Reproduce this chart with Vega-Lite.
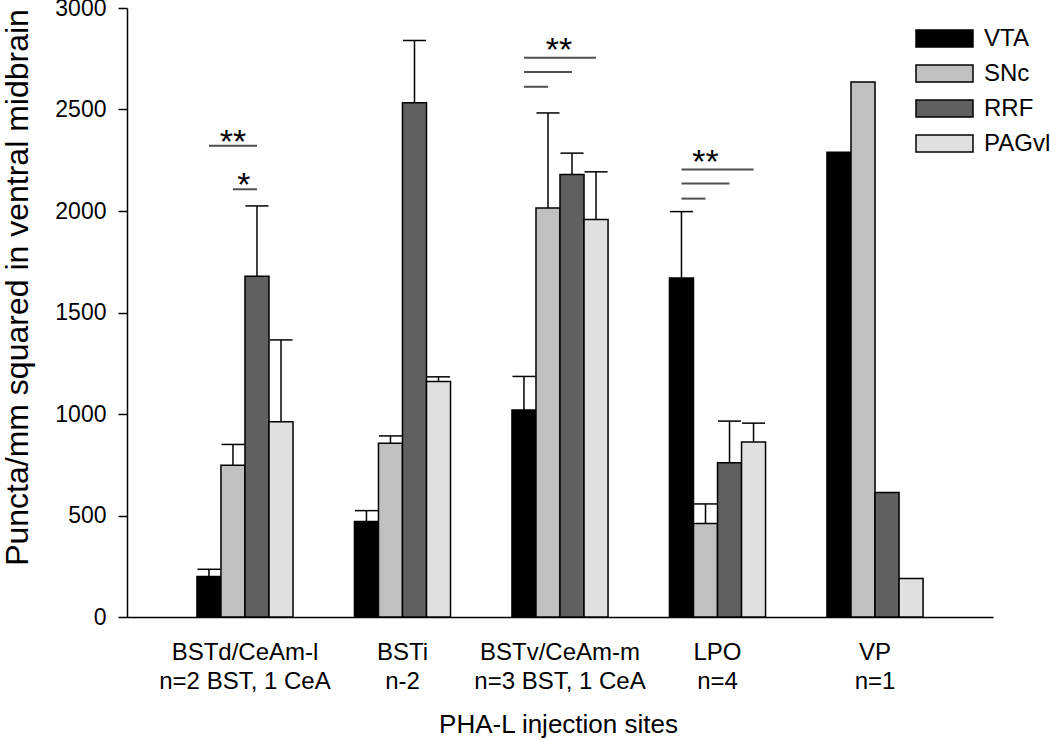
{
  "$schema": "https://vega.github.io/schema/vega-lite/v6.json",
  "width": 866,
  "height": 609,
  "autosize": {"type": "none"},
  "padding": {"left": 127, "top": 8, "right": 57, "bottom": 123},
  "background": "white",
  "config": {
    "view": {"stroke": null},
    "font": "Liberation Sans",
    "axis": {"labelFont": "Liberation Sans", "titleFont": "Liberation Sans", "labelColor": "black", "titleColor": "black", "titleFontWeight": "normal"},
    "axisY": {"labelFontSize": 23, "labelPadding": 12, "tickSize": 9, "tickColor": "black", "tickWidth": 1.5, "domainColor": "black", "domainWidth": 1.5, "grid": false}
  },
  "datasets": {
    "bars": [
      {"site": "BSTd/CeAm-l|n=2 BST, 1 CeA", "region": "VTA", "value": 200, "upper": 235},
      {"site": "BSTd/CeAm-l|n=2 BST, 1 CeA", "region": "SNc", "value": 748, "upper": 850},
      {"site": "BSTd/CeAm-l|n=2 BST, 1 CeA", "region": "RRF", "value": 1678, "upper": 2025},
      {"site": "BSTd/CeAm-l|n=2 BST, 1 CeA", "region": "PAGvl", "value": 962, "upper": 1365},
      {"site": "BSTi|n-2", "region": "VTA", "value": 470, "upper": 524},
      {"site": "BSTi|n-2", "region": "SNc", "value": 856, "upper": 892},
      {"site": "BSTi|n-2", "region": "RRF", "value": 2533, "upper": 2840},
      {"site": "BSTi|n-2", "region": "PAGvl", "value": 1160, "upper": 1183},
      {"site": "BSTv/CeAm-m|n=3 BST, 1 CeA", "region": "VTA", "value": 1020, "upper": 1185},
      {"site": "BSTv/CeAm-m|n=3 BST, 1 CeA", "region": "SNc", "value": 2015, "upper": 2483},
      {"site": "BSTv/CeAm-m|n=3 BST, 1 CeA", "region": "RRF", "value": 2180, "upper": 2285},
      {"site": "BSTv/CeAm-m|n=3 BST, 1 CeA", "region": "PAGvl", "value": 1958, "upper": 2193},
      {"site": "LPO|n=4", "region": "VTA", "value": 1670, "upper": 1997},
      {"site": "LPO|n=4", "region": "SNc", "value": 460, "upper": 557},
      {"site": "LPO|n=4", "region": "RRF", "value": 760, "upper": 965},
      {"site": "LPO|n=4", "region": "PAGvl", "value": 862, "upper": 955},
      {"site": "VP|n=1", "region": "VTA", "value": 2290, "upper": null},
      {"site": "VP|n=1", "region": "SNc", "value": 2635, "upper": null},
      {"site": "VP|n=1", "region": "RRF", "value": 613, "upper": null},
      {"site": "VP|n=1", "region": "PAGvl", "value": 190, "upper": null}
    ],
    "sig": [
      {"id": "a", "site": "BSTd/CeAm-l|n=2 BST, 1 CeA", "region": "VTA", "y": 2322},
      {"id": "a", "site": "BSTd/CeAm-l|n=2 BST, 1 CeA", "region": "RRF", "y": 2322},
      {"id": "b", "site": "BSTd/CeAm-l|n=2 BST, 1 CeA", "region": "SNc", "y": 2107},
      {"id": "b", "site": "BSTd/CeAm-l|n=2 BST, 1 CeA", "region": "RRF", "y": 2107},
      {"id": "c", "site": "BSTv/CeAm-m|n=3 BST, 1 CeA", "region": "VTA", "y": 2755},
      {"id": "c", "site": "BSTv/CeAm-m|n=3 BST, 1 CeA", "region": "PAGvl", "y": 2755},
      {"id": "d", "site": "BSTv/CeAm-m|n=3 BST, 1 CeA", "region": "VTA", "y": 2685},
      {"id": "d", "site": "BSTv/CeAm-m|n=3 BST, 1 CeA", "region": "RRF", "y": 2685},
      {"id": "e", "site": "BSTv/CeAm-m|n=3 BST, 1 CeA", "region": "VTA", "y": 2612},
      {"id": "e", "site": "BSTv/CeAm-m|n=3 BST, 1 CeA", "region": "SNc", "y": 2612},
      {"id": "f", "site": "LPO|n=4", "region": "VTA", "y": 2205},
      {"id": "f", "site": "LPO|n=4", "region": "PAGvl", "y": 2205},
      {"id": "g", "site": "LPO|n=4", "region": "VTA", "y": 2136},
      {"id": "g", "site": "LPO|n=4", "region": "RRF", "y": 2136},
      {"id": "h", "site": "LPO|n=4", "region": "VTA", "y": 2061},
      {"id": "h", "site": "LPO|n=4", "region": "SNc", "y": 2061}
    ],
    "stars": [
      {"site": "BSTd/CeAm-l|n=2 BST, 1 CeA", "region": "SNc", "y": 2288, "label": "**", "shift": "no"},
      {"site": "LPO|n=4", "region": "SNc", "y": 2188, "label": "**", "shift": "no"},
      {"site": "BSTd/CeAm-l|n=2 BST, 1 CeA", "region": "SNc", "y": 2076, "label": "*", "shift": "yes"},
      {"site": "BSTv/CeAm-m|n=3 BST, 1 CeA", "region": "SNc", "y": 2741, "label": "**", "shift": "yes"}
    ]
  },
  "encoding": {
    "x": {
      "field": "site", "type": "nominal",
      "scale": {"type": "band", "domain": ["BSTd/CeAm-l|n=2 BST, 1 CeA", "BSTi|n-2", "BSTv/CeAm-m|n=3 BST, 1 CeA", "LPO|n=4", "VP|n=1"], "paddingInner": 0.39, "paddingOuter": 0.444},
      "axis": {
        "title": "PHA-L injection sites", "titleFontSize": 26, "titleBaseline": "alphabetic", "titleY": 115, "titleX": 431, "titleAlign": "center",
        "labelExpr": "split(datum.label, '|')", "labelAngle": 0, "labelFontSize": 24, "labelLineHeight": 29, "labelBaseline": "top", "labelPadding": 23,
        "ticks": false, "tickSize": 0, "domainColor": "black", "domainWidth": 1.5, "labelLimit": 0
      }
    },
    "xOffset": {"field": "region", "type": "nominal", "scale": {"domain": ["VTA", "SNc", "RRF", "PAGvl"], "paddingInner": 0, "paddingOuter": 0}}
  },
  "layer": [
    {
      "data": {"name": "bars"},
      "mark": {"type": "bar", "stroke": "black", "strokeWidth": 1.5},
      "encoding": {
        "y": {
          "field": "value", "type": "quantitative",
          "scale": {"domain": [0, 3000], "nice": false, "zero": true},
          "axis": {
            "title": "Puncta/mm squared in ventral midbrain", "titleFontSize": 32, "titleAngle": -90, "titleBaseline": "alphabetic", "titleAlign": "center", "titleX": -100, "titleY": 279,
            "values": [0, 500, 1000, 1500, 2000, 2500, 3000], "format": "d", "grid": false,
            "labelFontSize": 23, "labelPadding": 12, "tickSize": 9, "tickColor": "black", "tickWidth": 1.5, "domainColor": "black", "domainWidth": 1.5, "labelBaseline": "middle"
          }
        },
        "fill": {
          "field": "region", "type": "nominal",
          "scale": {"domain": ["VTA", "SNc", "RRF", "PAGvl"], "range": ["#000000", "#c0c0c0", "#606060", "#e0e0e0"]},
          "legend": {
            "orient": "none", "legendX": 788, "legendY": 21, "title": null, "padding": 0,
            "symbolType": "M-1,-0.298H1V0.298H-1Z", "symbolSize": 3249, "symbolStrokeColor": "black", "symbolStrokeWidth": 1.5, "symbolOpacity": 1,
            "labelFont": "Liberation Sans", "labelFontSize": 24, "labelColor": "black", "labelOffset": 10, "clipHeight": 19, "rowPadding": 10
          }
        }
      }
    },
    {
      "data": {"name": "bars"},
      "transform": [{"filter": "datum.upper != null"}],
      "mark": {"type": "rule", "color": "black", "strokeWidth": 1.5},
      "encoding": {
        "y": {"field": "value", "type": "quantitative"},
        "y2": {"field": "upper"}
      }
    },
    {
      "data": {"name": "bars"},
      "transform": [{"filter": "datum.upper != null"}],
      "mark": {"type": "tick", "color": "black", "thickness": 1.5, "size": 23, "opacity": 1},
      "encoding": {
        "y": {"field": "upper", "type": "quantitative"}
      }
    },
    {
      "data": {"name": "sig"},
      "mark": {"type": "line", "color": "#505050", "strokeWidth": 2},
      "encoding": {
        "y": {"field": "y", "type": "quantitative"},
        "detail": {"field": "id"}
      }
    },
    {
      "data": {"name": "stars"},
      "transform": [{"filter": "datum.shift == 'no'"}],
      "mark": {"type": "text", "fontSize": 34, "baseline": "alphabetic", "align": "center", "color": "black", "font": "Liberation Sans"},
      "encoding": {
        "y": {"field": "y", "type": "quantitative"},
        "text": {"field": "label"}
      }
    },
    {
      "data": {"name": "stars"},
      "transform": [{"filter": "datum.shift == 'yes'"}],
      "mark": {"type": "text", "fontSize": 34, "baseline": "alphabetic", "align": "center", "color": "black", "dx": 11, "font": "Liberation Sans"},
      "encoding": {
        "y": {"field": "y", "type": "quantitative"},
        "text": {"field": "label"}
      }
    }
  ]
}
